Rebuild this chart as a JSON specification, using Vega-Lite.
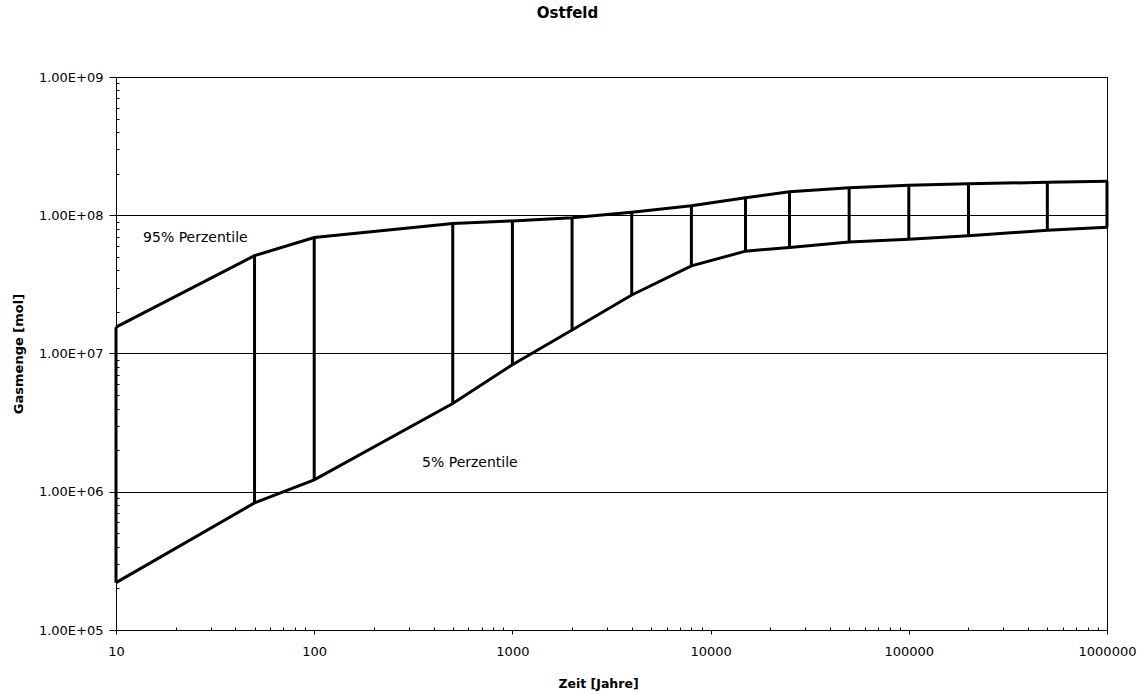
{
  "$schema": "https://vega.github.io/schema/vega-lite/v6.json",
  "autosize": "none",
  "width": 991,
  "height": 553,
  "padding": {"left": 116, "top": 77, "right": 37, "bottom": 64},
  "background": "white",
  "config": {
    "view": {"stroke": "black", "strokeWidth": 1},
    "font": "DejaVu Sans",
    "axis": {"labelFont": "DejaVu Sans", "labelColor": "black", "titleFont": "DejaVu Sans", "titleColor": "black", "domainColor": "black", "tickColor": "black", "gridColor": "black", "gridOpacity": 1, "gridWidth": 1}
  },
  "title": {"text": "Ostfeld", "font": "DejaVu Sans", "fontSize": 15, "fontWeight": "bold", "color": "black", "anchor": "middle", "offset": 50, "dx": -44},
  "datasets": {
    "band": [
      {"zeit": 10, "p5": 220000, "p95": 15500000},
      {"zeit": 50, "p5": 830000, "p95": 51000000},
      {"zeit": 100, "p5": 1220000, "p95": 69000000},
      {"zeit": 500, "p5": 4350000, "p95": 87000000},
      {"zeit": 1000, "p5": 8300000, "p95": 91000000},
      {"zeit": 2000, "p5": 14800000, "p95": 96000000},
      {"zeit": 4000, "p5": 26500000, "p95": 105000000},
      {"zeit": 8000, "p5": 43000000, "p95": 117000000},
      {"zeit": 15000, "p5": 55000000, "p95": 134000000},
      {"zeit": 25000, "p5": 58500000, "p95": 148000000},
      {"zeit": 50000, "p5": 64000000, "p95": 158000000},
      {"zeit": 100000, "p5": 67000000, "p95": 165000000},
      {"zeit": 200000, "p5": 71000000, "p95": 169000000},
      {"zeit": 500000, "p5": 78000000, "p95": 173000000},
      {"zeit": 1000000, "p5": 82000000, "p95": 176000000}
    ],
    "labels": [
      {"zeit": 13.7, "wert": 68000000, "label": "95% Perzentile"},
      {"zeit": 350, "wert": 1610000, "label": "5% Perzentile"}
    ]
  },
  "resolve": {"axis": {"x": "independent", "y": "independent"}},
  "layer": [
    {
      "data": {"name": "band"},
      "mark": {"type": "rule", "color": "black", "strokeWidth": 3},
      "encoding": {
        "x": {"field": "zeit", "type": "quantitative", "scale": {"type": "log", "domain": [10, 1000000], "nice": false},
          "axis": {"orient": "bottom", "title": "Zeit [Jahre]", "titleFontSize": 12.5, "titleFontWeight": "bold", "titleX": 482, "titleY": 53, "titleBaseline": "middle", "values": [10, 100, 1000, 10000, 100000, 1000000], "format": "d", "labelFontSize": 13, "tickSize": 4, "labelPadding": 11, "grid": false, "labelFlush": false, "labelOverlap": false}},
        "y": {"field": "p5", "type": "quantitative", "scale": {"type": "log", "domain": [100000, 1000000000], "nice": false},
          "axis": {"orient": "left", "title": "Gasmenge [mol]", "titleFontSize": 13, "titleFontWeight": "bold", "titleX": -98, "titleBaseline": "middle", "values": [100000, 1000000, 10000000, 100000000, 1000000000], "labelExpr": "'1.00E+0' + format(log(datum.value)/LN10, '.0f')", "labelFontSize": 13, "tickSize": 7, "labelPadding": 6, "grid": true, "labelFlush": false, "labelOverlap": false}},
        "y2": {"field": "p95"}
      }
    },
    {
      "data": {"name": "band"},
      "mark": {"type": "line", "color": "black", "strokeWidth": 3},
      "encoding": {
        "x": {"field": "zeit", "type": "quantitative",
          "axis": {"orient": "bottom", "title": null, "labels": false, "domain": false, "grid": false, "tickSize": -3, "values": [20,30,40,50,60,70,80,90,200,300,400,500,600,700,800,900,2000,3000,4000,5000,6000,7000,8000,9000,20000,30000,40000,50000,60000,70000,80000,90000,200000,300000,400000,500000,600000,700000,800000,900000]}},
        "y": {"field": "p95", "type": "quantitative",
          "axis": {"orient": "left", "title": null, "labels": false, "domain": false, "grid": false, "tickSize": -3, "values": [200000,300000,400000,500000,600000,700000,800000,900000,2000000,3000000,4000000,5000000,6000000,7000000,8000000,9000000,20000000,30000000,40000000,50000000,60000000,70000000,80000000,90000000,200000000,300000000,400000000,500000000,600000000,700000000,800000000,900000000]}}
      }
    },
    {
      "data": {"name": "band"},
      "mark": {"type": "line", "color": "black", "strokeWidth": 3},
      "encoding": {
        "x": {"field": "zeit", "type": "quantitative", "axis": null},
        "y": {"field": "p5", "type": "quantitative", "axis": null}
      }
    },
    {
      "data": {"name": "labels"},
      "mark": {"type": "text", "align": "left", "baseline": "middle", "font": "DejaVu Sans", "fontSize": 14, "color": "black"},
      "encoding": {
        "x": {"field": "zeit", "type": "quantitative", "axis": null},
        "y": {"field": "wert", "type": "quantitative", "axis": null},
        "text": {"field": "label"}
      }
    }
  ]
}
